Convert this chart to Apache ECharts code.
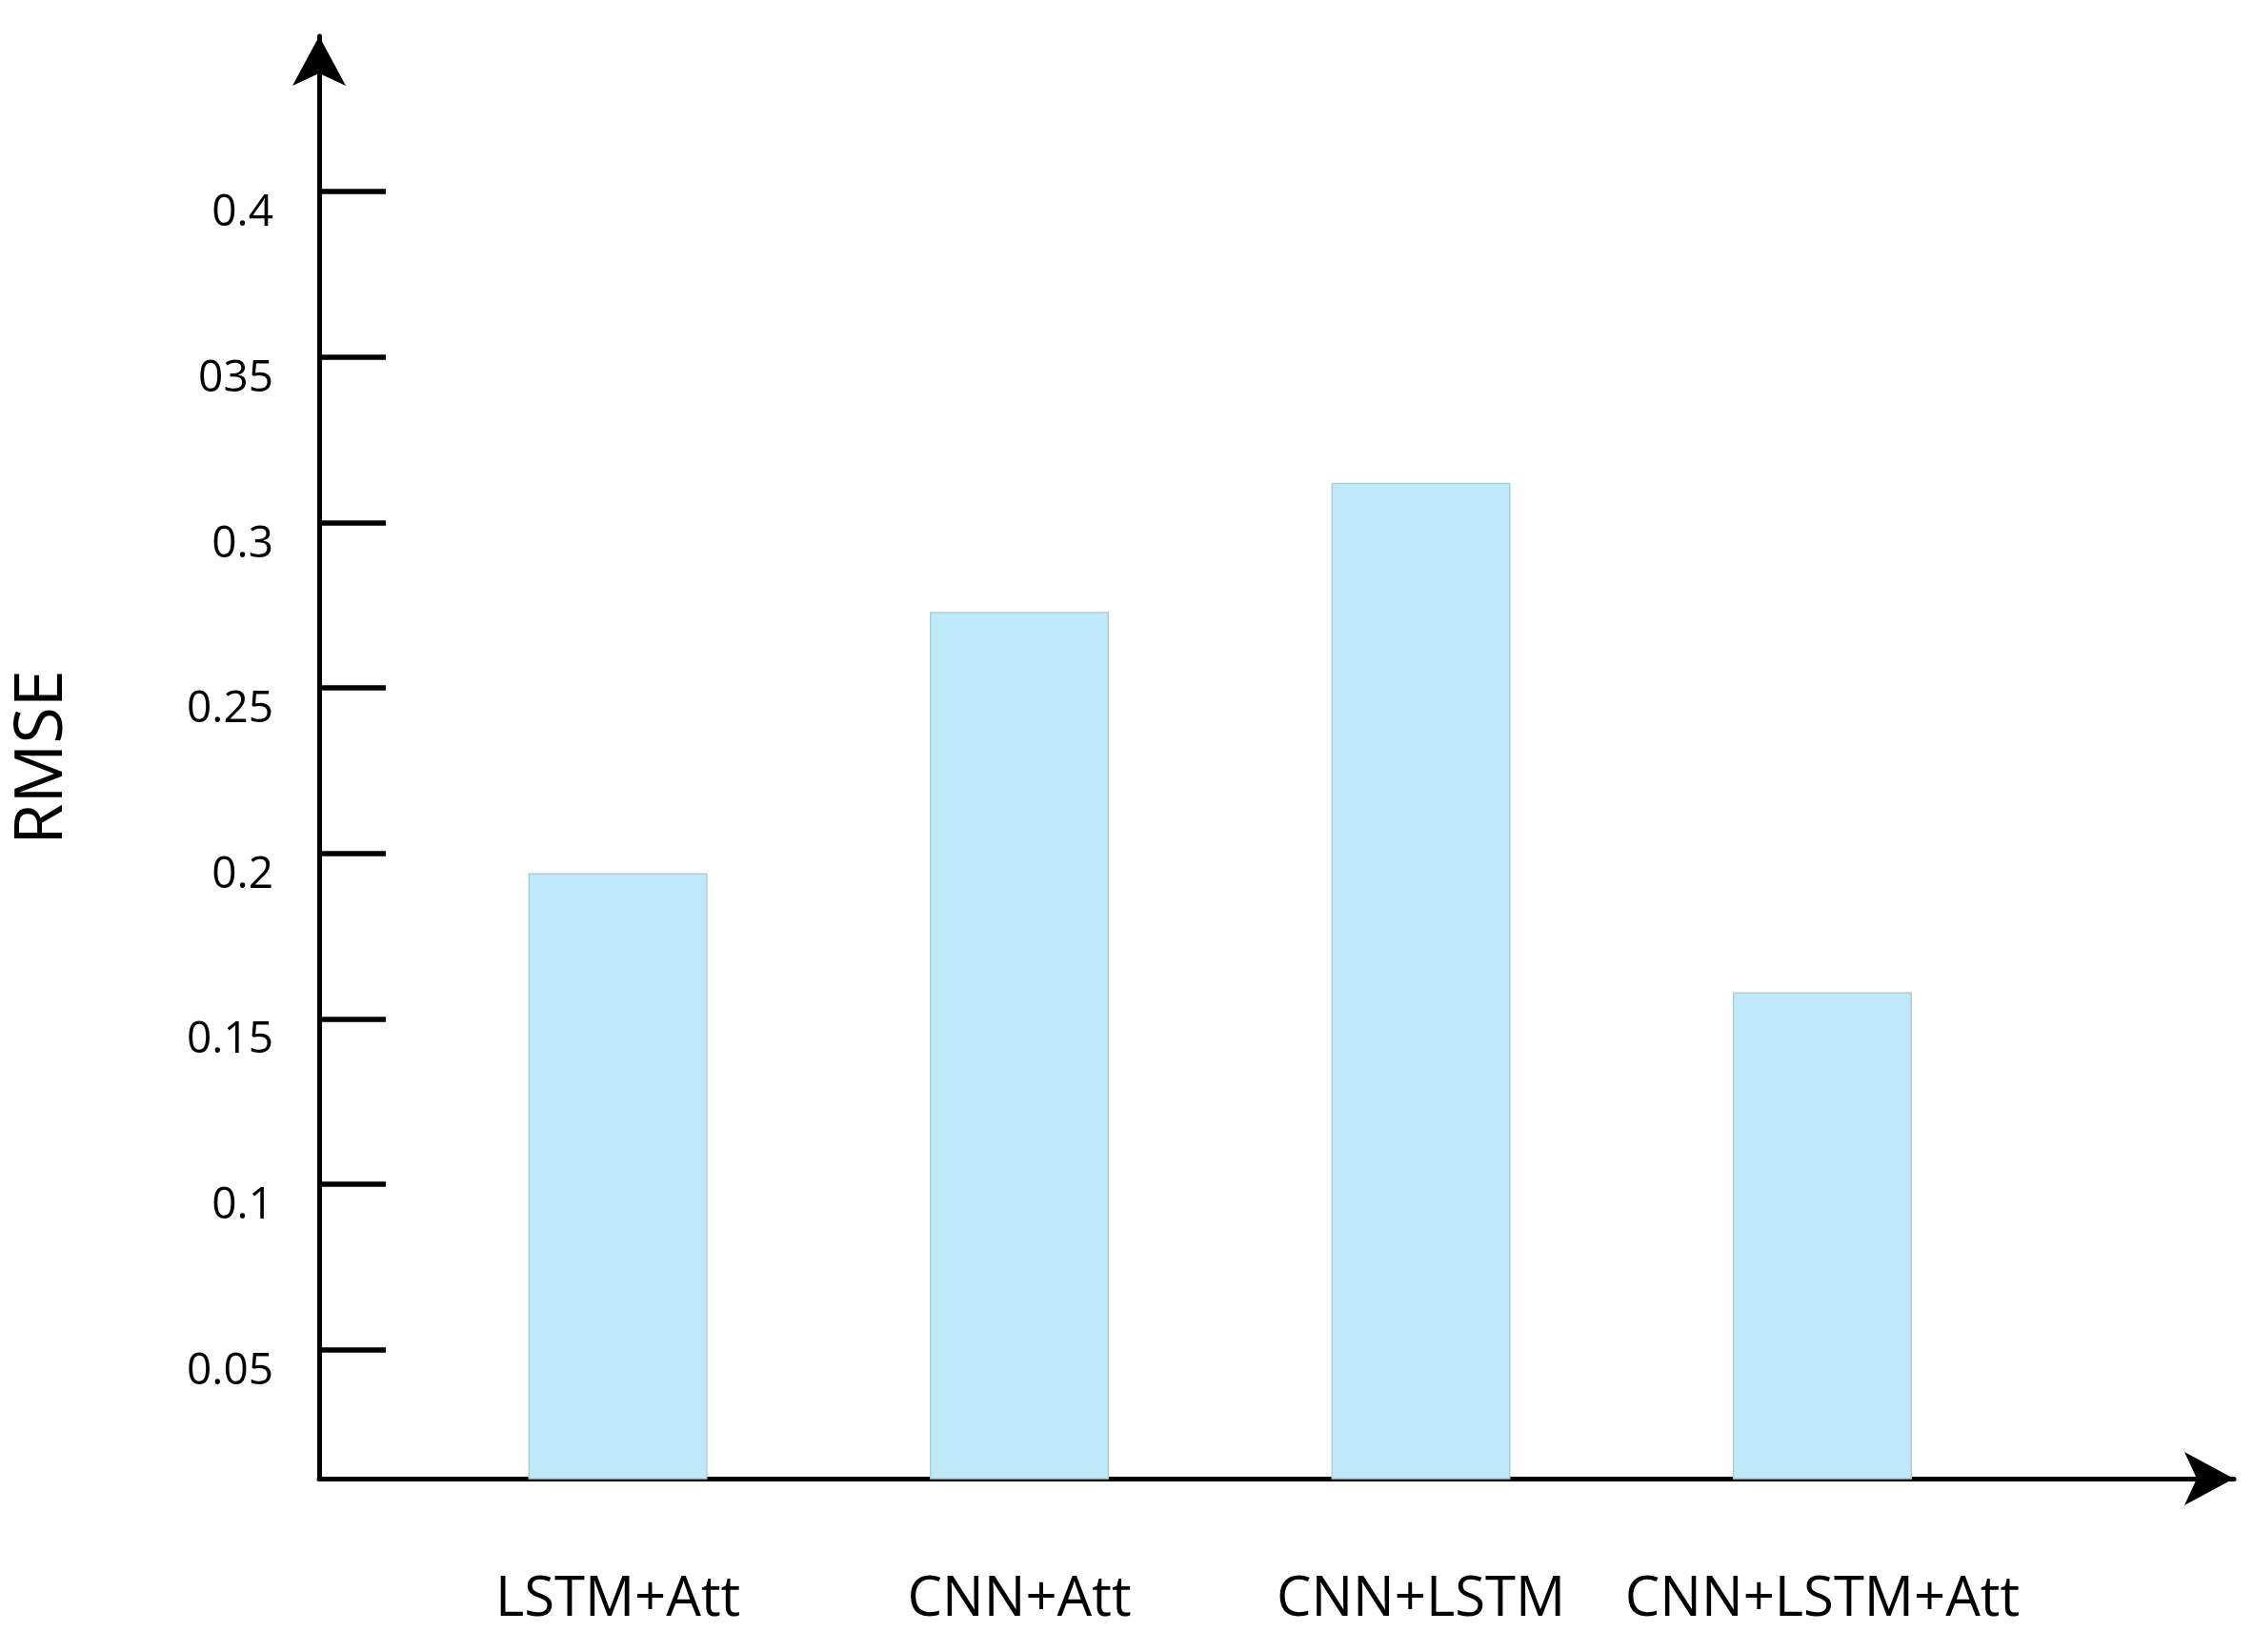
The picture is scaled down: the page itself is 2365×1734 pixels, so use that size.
<!DOCTYPE html>
<html>
<head>
  <meta charset="utf-8">
  <script src="https://cdn.jsdelivr.net/npm/echarts@6/dist/echarts.min.js"></script>
</head>
<body style="margin:0;background:#fff">
  <div id="container" style="width:2365px;height:1734px"></div>
  <script>
    // data
    var models = ['LSTM+Att', 'CNN+Att', 'CNN+LSTM', 'CNN+LSTM+Att'];
    var positions = [1, 2, 3, 4];
    var rmse = [0.194, 0.273, 0.312, 0.158];
    var tickValues = [0.05, 0.1, 0.15, 0.2, 0.25, 0.3, 0.35, 0.4];
    var tickLabels = ['0.05', '0.1', '0.15', '0.2', '0.25', '0.3', '035', '0.4'];

    var font = '"Open Sans", Lato, sans-serif';
    var chart = echarts.init(document.getElementById('container'));
    chart.setOption({
      animation: false,
      grid: { left: 335, right: 20, top: 38, bottom: 182 },
      xAxis: {
        type: 'value', min: 0.256, max: 5.025,
        splitLine: { show: false },
        axisLine: { lineStyle: { color: '#000', width: 5 }, symbol: ['none', 'arrow'], symbolSize: [42, 52] },
        axisTick: { show: false },
        axisLabel: {
          customValues: positions, margin: 98, fontSize: 58, color: '#000', fontFamily: font,
          formatter: function (v) { return models[positions.indexOf(v)] || ''; }
        }
      },
      yAxis: {
        type: 'value', min: 0.011, max: 0.447,
        name: 'RMSE', nameLocation: 'middle', nameGap: 255, nameRotate: 90,
        nameTextStyle: { fontSize: 70, color: '#000', fontFamily: font },
        splitLine: { show: false },
        axisLine: { show: true, lineStyle: { color: '#000', width: 5 }, symbol: ['none', 'arrow'], symbolSize: [42, 52] },
        axisTick: { show: true, inside: true, length: 70, customValues: tickValues, lineStyle: { color: '#000', width: 5.5 } },
        axisLabel: {
          customValues: tickValues, margin: 48, fontSize: 46, color: '#000', fontFamily: font,
          verticalAlign: 'top',
          formatter: function (v) {
            for (var i = 0; i < tickValues.length; i++) if (Math.abs(tickValues[i] - v) < 1e-9) return tickLabels[i];
            return '';
          }
        }
      },
      series: [{
        type: 'bar',
        barWidth: 188,
        data: positions.map(function (p, i) { return [p, rmse[i]]; }),
        itemStyle: { color: '#bfe9f8', borderColor: '#a9cfdc', borderWidth: 1.5 }
      }]
    });
  </script>
</body>
</html>
